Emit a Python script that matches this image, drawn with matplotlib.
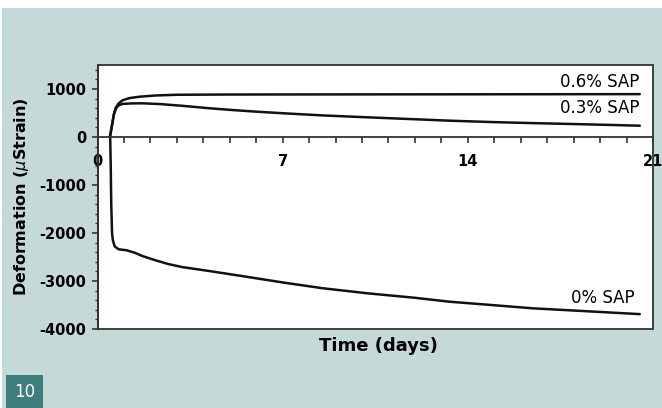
import matplotlib
matplotlib.use('Agg')
import matplotlib.pyplot as plt
from matplotlib.patches import Rectangle
from matplotlib.ticker import MultipleLocator

plt.rcParams['axes.unicode_minus'] = False
plt.rcParams['font.family'] = 'DejaVu Sans'

# Shrinkage / swelling curves (microstrain vs. days)
days_sap06 = [0.47, 0.55, 0.62, 0.70, 0.80, 0.95, 1.2, 1.6, 2.2, 3.0, 5.0, 10.0, 15.0, 20.5]
strain_sap06 = [0, 250, 480, 620, 700, 765, 810, 840, 865, 880, 885, 888, 890, 893]

days_sap03 = [0.47, 0.55, 0.62, 0.70, 0.80, 0.95, 1.3, 1.7, 2.4, 3.2, 4.2, 5.1, 6.0, 7.0,
              8.5, 10.2, 12.0, 13.3, 15.0, 16.4, 18.0, 19.5, 20.5]
strain_sap03 = [0, 250, 470, 600, 660, 690, 700, 702, 685, 650, 600, 562, 528, 495,
                450, 410, 370, 340, 310, 290, 270, 250, 235]

days_sap0 = [0.48, 0.50, 0.52, 0.55, 0.58, 0.65, 0.80, 1.1, 1.4, 1.7, 2.2, 2.7, 3.2, 4.2,
             5.5, 7.0, 8.5, 10.2, 12.0, 13.3, 15.0, 16.45, 18.5, 20.5]
strain_sap0 = [0, -600, -1400, -2000, -2150, -2280, -2340, -2360, -2410, -2480, -2570,
               -2650, -2710, -2790, -2900, -3030, -3150, -3256, -3350, -3431, -3505,
               -3569, -3630, -3690]

x_major = [0, 7, 14, 21]
y_major = [1000, 0, -1000, -2000, -3000, -4000]

BG = '#c5d9d8'
TEAL = '#3e7e7b'

fig = plt.figure(figsize=(6.62, 4.08), dpi=100)
fig.patch.set_facecolor('white')
fig.add_artist(Rectangle((2 / 662, 0), 1, 400 / 408, transform=fig.transFigure,
                         facecolor=BG, edgecolor='none', zorder=0))
fig.add_artist(Rectangle((6 / 662, 0), 37 / 662, 33 / 408, transform=fig.transFigure,
                         facecolor=TEAL, edgecolor='none', zorder=1))
fig.text(24.5 / 662, 16 / 408, '10', color='white', fontsize=12,
         ha='center', va='center', zorder=2)

ax = fig.add_axes([97.5 / 662, 79 / 408, 555.5 / 662, 264 / 408])
ax.set_facecolor('white')
ax.patch.set_edgecolor('#333333')
ax.patch.set_linewidth(1.3)

for d, s in [(days_sap06, strain_sap06), (days_sap03, strain_sap03), (days_sap0, strain_sap0)]:
    ax.plot(d, s, color='#111111', lw=1.8, solid_capstyle='round', solid_joinstyle='round')

ax.set_xlim(0, 21)
ax.set_ylim(-4000, 1500)

# x axis sits on the zero line, the box frame comes from the axes patch
for side in ['top', 'right']:
    ax.spines[side].set_visible(False)
ax.spines['bottom'].set_position(('data', 0))
ax.spines['bottom'].set_color('#333333')
ax.spines['bottom'].set_linewidth(1.3)
ax.spines['left'].set_color('#333333')
ax.spines['left'].set_linewidth(1.3)

ax.set_xticks(x_major)
ax.set_xticklabels([str(v) for v in x_major], fontweight='bold', fontsize=10.5)
ax.xaxis.set_minor_locator(MultipleLocator(1))
ax.tick_params(axis='x', which='both', direction='out', length=4, width=1.2,
               color='#333333', pad=8)

ax.set_yticks(y_major)
ax.set_yticklabels([str(v) for v in y_major], fontweight='bold', fontsize=10.5)
ax.yaxis.set_minor_locator(MultipleLocator(200))
ax.tick_params(axis='y', which='major', direction='out', length=4, width=1.2,
               color='#333333', pad=4)
ax.tick_params(axis='y', which='minor', direction='out', length=2.5, width=1.0,
               color='#333333')

ax.set_ylabel(r'Deformation ($\mu$Strain)', fontweight='bold', fontsize=11.5, labelpad=6)
ax.set_xlabel('Time (days)', fontweight='bold', fontsize=13)
ax.xaxis.set_label_coords(0.505, -0.03)

ax.text(20.5, 965, '0.6% SAP', ha='right', va='bottom', fontsize=12)
ax.text(20.5, 415, '0.3% SAP', ha='right', va='bottom', fontsize=12)
ax.text(20.3, -3535, '0% SAP', ha='right', va='bottom', fontsize=12)

fig.savefig('out.png', dpi=100, facecolor=fig.get_facecolor())
